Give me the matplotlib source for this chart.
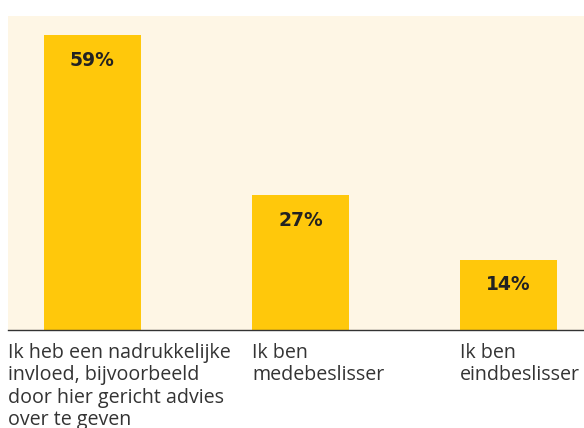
import matplotlib
matplotlib.use("Agg")
import matplotlib.pyplot as plt

categories = ["Ik heb een nadrukkelijke\ninvloed, bijvoorbeeld\ndoor hier gericht advies\nover te geven",
              "Ik ben\nmedebeslisser",
              "Ik ben\neindbeslisser"]
values = [59, 27, 14]
value_labels = ["59%", "27%", "14%"]

W, H = 584, 428
fig = plt.figure(figsize=(W / 100, H / 100), dpi=100)
fig.patch.set_facecolor("white")
ax = fig.add_axes([8 / W, (H - 330) / H, 576 / W, (330 - 16) / H])
ax.set_facecolor("#FEF6E5")

x = list(range(len(values)))
ax.bar(x, values, width=0.466, color="#FFC80B", zorder=2)
ax.set_xlim(-0.406, 2.363)
ax.set_ylim(0, 62.8)

for xi, v, lab in zip(x, values, value_labels):
    ax.text(xi, v - 5, lab, ha="center", va="center", fontsize=13.5,
            fontweight="bold", color="#222222", family="DejaVu Sans", zorder=3)

for s in ["top", "right", "left"]:
    ax.spines[s].set_visible(False)
ax.spines["bottom"].set_color("#333333")
ax.spines["bottom"].set_linewidth(1.0)
ax.set_xticks([])
ax.set_yticks([])

label_x = [-0.406, 1 - 0.233, 2 - 0.233]
for lx, lab in zip(label_x, categories):
    ax.text(lx, -2.6, lab, ha="left", va="top", fontsize=14.1, color="#333333",
            family="Open Sans", linespacing=1.15, transform=ax.transData, clip_on=False)

fig.savefig("out.png", dpi=100)
